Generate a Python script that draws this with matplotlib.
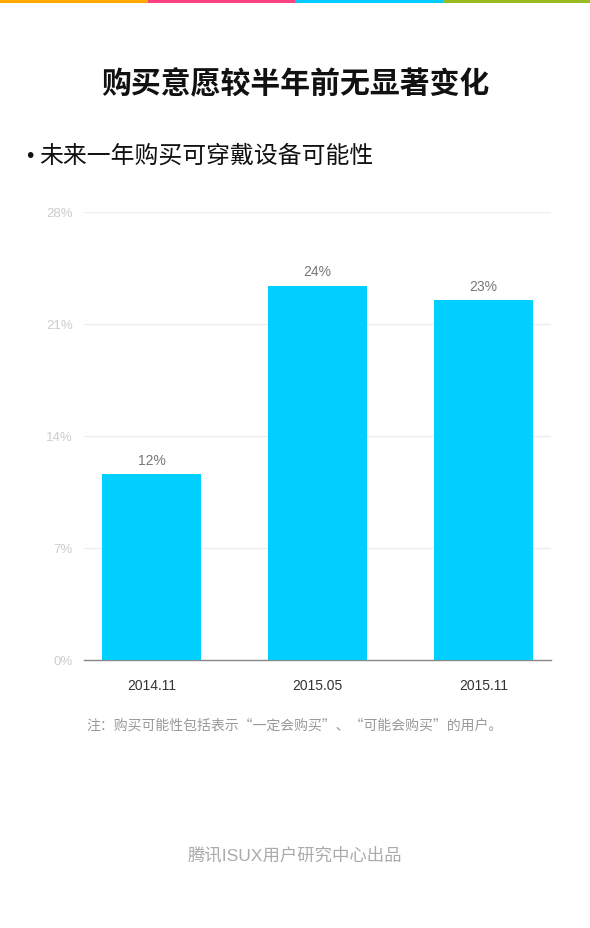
import matplotlib.pyplot as plt
from matplotlib.patches import Rectangle

plt.rcParams['font.family'] = ['Liberation Sans', 'Noto Sans CJK SC', 'DejaVu Sans']

periods = ["2014.11", "2015.05", "2015.11"]
share = [11.6, 23.4, 22.5]
share_labels = ["12%", "24%", "23%"]
y_ticks = [0, 7, 14, 21, 28]
y_tick_labels = ["0%", "7%", "14%", "21%", "28%"]

stripe_colors = ["#FFA800", "#FF4081", "#00CCFF", "#99BB22"]
BAR_COLOR = "#00CFFF"
CJK = ['Noto Sans CJK SC', 'DejaVu Sans']

fig = plt.figure(figsize=(5.9, 9.29), dpi=100)
fig.patch.set_facecolor("white")

# top colour stripe
for i, c in enumerate(stripe_colors):
    fig.add_artist(Rectangle((i * 0.25, 1 - 4 / 929), 0.25, 4 / 929,
                             transform=fig.transFigure, color=c, lw=0))

fig.text(0.5, 1 - 84 / 929, "购买意愿较半年前无显著变化", ha="center", va="center",
         fontsize=21.5, fontweight="bold", color="#111111", family=CJK)
fig.text(30 / 590, 1 - 157 / 929, "•", ha="center", va="center",
         fontsize=14, color="#111111", family="DejaVu Sans")
fig.text(39 / 590, 1 - 156 / 929, "未来一年购买可穿戴设备可能性", ha="left", va="center",
         fontsize=17.2, color="#111111", family=CJK)

ax = fig.add_axes([84 / 590, 1 - 661 / 929, 467 / 590, 448 / 929])
x = list(range(len(periods)))
bars = ax.bar(x, share, width=0.6, color=BAR_COLOR, zorder=3)
for b, lab in zip(bars, share_labels):
    ax.text(b.get_x() + b.get_width() / 2, b.get_height() + 0.45, lab,
            ha="center", va="bottom", fontsize=10, color="#777777")

ax.set_xlim(-0.407, 2.407)
ax.set_ylim(0, 28)
ax.set_yticks(y_ticks)
ax.set_yticklabels(y_tick_labels)
ax.set_xticks(x)
ax.set_xticklabels(periods)
ax.tick_params(axis="y", length=0, labelsize=9.5, labelcolor="#CCCCCC", pad=8)
ax.tick_params(axis="x", length=0, labelsize=10, labelcolor="#333333", pad=13)
ax.grid(axis="y", color="#EEEEEE", lw=1, zorder=0)
for s in ["top", "right", "left"]:
    ax.spines[s].set_visible(False)
ax.spines["bottom"].set_color("#888888")
ax.spines["bottom"].set_linewidth(1)

fig.text(0.5, 1 - 726 / 929, "注：购买可能性包括表示“一定会购买”、“可能会购买”的用户。",
         ha="center", va="center", fontsize=10, color="#999999", family=CJK)
fig.text(0.5, 1 - 855 / 929, "腾讯ISUX用户研究中心出品", ha="center", va="center",
         fontsize=12.5, color="#AAAAAA")

fig.savefig("out.png", dpi=100)
